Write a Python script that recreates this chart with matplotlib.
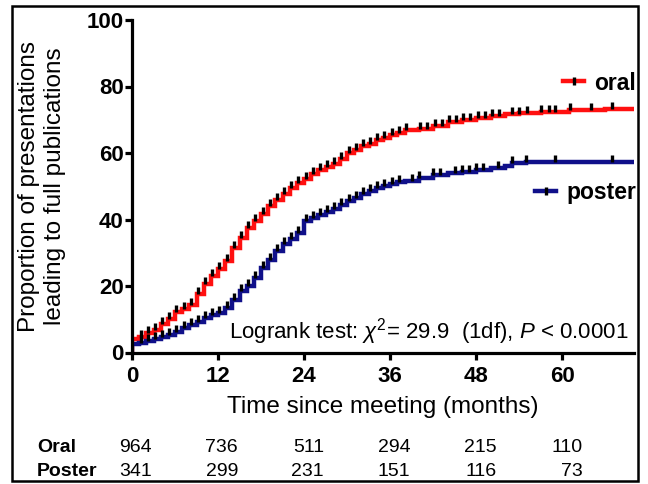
import numpy as np
import matplotlib
matplotlib.use("Agg")
import matplotlib.pyplot as plt
import matplotlib.transforms as mtransforms
from matplotlib.lines import Line2D
from matplotlib.patches import Rectangle

plt.rcParams['font.family'] = ['Liberation Sans', 'DejaVu Sans']
plt.rcParams['mathtext.fontset'] = 'custom'
plt.rcParams['mathtext.rm'] = 'Liberation Sans'
plt.rcParams['mathtext.it'] = 'Liberation Sans:italic'

# cumulative proportion published (%) - step times in months and levels after each step
oral_t = [0, 1, 2, 3, 4, 5, 6, 7, 8, 9, 10, 11, 12, 13, 14, 15, 16, 17, 18, 19,
          20, 21, 22, 23, 24, 25, 26, 27, 28, 29, 30, 31, 32, 33, 34, 35, 36, 37, 38,
          40, 42, 44, 46, 48, 50, 52, 54, 57, 61, 66]
oral_y = [4.0, 4.8, 5.8, 6.8, 8.5, 10.0, 12.3, 13.2, 14.3, 17.5,
          20.5, 23.0, 25.0, 27.5, 31.5, 34.5, 37.5, 39.5, 41.7, 44.0,
          46.0, 47.7, 49.5, 51.0, 52.3, 53.7, 55.0, 55.8, 56.8, 58.2,
          60.0, 61.0, 62.0, 62.8, 63.8, 64.6, 65.3, 66.0, 66.8,
          67.2, 68.2, 69.2, 70.0, 70.6, 71.2, 71.6, 72.0, 72.4, 72.8, 73.1]
oral_cens = [1.2, 2.2, 3.2, 4.2, 5.2, 6.2, 7.2, 8.2, 9.2, 10.2, 11.2, 12.2, 13.2,
             14.2, 15.2, 16.2, 17.2, 18.2, 19.2, 20.2, 21.2, 22.2, 23.2, 24.2, 25.2,
             26.2, 27.2, 28.2, 29.2, 30.2, 31.2, 32.2, 33.2, 34.2, 35.2, 36.2, 37.2,
             38.2, 40.2, 41.2, 42.2, 43.2, 44.2, 45.2, 46.2, 47.2, 48.2, 49.2, 50.2,
             51.2, 53.0, 53.9, 55.1, 57.0, 58.1, 59.0, 61.1, 64.0, 67.0]

poster_t = [0, 1, 2, 3, 4, 5, 6, 7, 8, 9, 10, 11, 12, 13, 14, 15, 16, 17, 18, 19,
            20, 21, 22, 23, 24, 25, 26, 27, 28, 29, 30, 31, 32, 33, 34, 35, 36, 37, 38,
            40, 42, 44, 46, 48, 50, 52, 53, 55]
poster_y = [2.5, 3.0, 3.5, 4.0, 4.6, 5.3, 6.3, 7.3, 8.3, 9.3,
            10.3, 11.2, 12.0, 13.5, 15.8, 18.5, 20.0, 22.5, 25.5, 27.8,
            30.5, 32.5, 34.2, 36.0, 39.5, 40.5, 41.5, 42.3, 43.3, 44.5,
            45.5, 46.5, 47.8, 48.7, 49.5, 50.1, 50.8, 51.3, 51.7,
            52.6, 53.3, 54.0, 54.4, 54.9, 55.5, 56.2, 56.9, 57.4]
poster_cens = [1.2, 2.2, 3.2, 4.2, 5.2, 6.2, 7.2, 8.2, 9.2, 10.2, 11.2, 12.2, 13.2,
               14.2, 15.2, 16.2, 17.2, 18.2, 19.2, 20.2, 21.2, 22.2, 23.2, 24.2, 25.2,
               26.2, 27.2, 28.2, 29.2, 30.2, 31.2, 32.2, 33.2, 34.2, 35.2, 36.2, 37.2,
               39.0, 40.0, 42.0, 43.0, 45.0, 46.0, 47.0, 48.0, 49.0, 51.0, 53.0, 55.0,
               59.0, 67.0]

risk_times = [0, 12, 24, 36, 48, 60]
oral_risk = [964, 736, 511, 294, 215, 110]
poster_risk = [341, 299, 231, 151, 116, 73]

RED = '#ff1010'
BLUE = '#10108a'
XMAX = 70

fig = plt.figure(figsize=(6.48, 4.84), dpi=100)
ax = fig.add_axes([132/648, (484-352.5)/484, (634-132)/648, (352.5-20)/484])


def draw_km(t, y, cens, color):
    xs = [0] + list(t) + [XMAX]
    ys = [0] + list(y) + [y[-1]]
    ax.step(xs, ys, where='post', color=color, lw=3.2, solid_joinstyle='miter', zorder=2)
    idx = np.searchsorted(t, cens, side='right') - 1
    cy = np.array(y)[idx]
    ax.plot(cens, cy, ls='none', marker=2, ms=4.8, mew=2.4, color='black', zorder=3)


draw_km(oral_t, oral_y, oral_cens, RED)
draw_km(poster_t, poster_y, poster_cens, BLUE)

ax.set_xlim(0, XMAX)
ax.set_ylim(0, 100)
ax.set_xticks(risk_times)
ax.set_yticks([0, 20, 40, 60, 80, 100])
for s in ['top', 'right']:
    ax.spines[s].set_visible(False)
for s in ['left', 'bottom']:
    ax.spines[s].set_linewidth(2.3)
ax.tick_params(axis='both', length=5, width=2.3, labelsize=16)
ax.tick_params(axis='x', pad=5)
ax.tick_params(axis='y', pad=1)
for lab in ax.get_xticklabels() + ax.get_yticklabels():
    lab.set_fontweight('bold')

ax.set_xlabel('Time since meeting (months)', fontsize=17.5)
ax.xaxis.set_label_coords(0.5, (352.5-407)/332.5)
ax.xaxis.label.set_va('center')
ax.set_ylabel('Proportion of presentations\nleading to full publications', fontsize=17.5,
              linespacing=1.25)
ax.yaxis.set_label_coords((42-132)/502, 0.5)
ax.yaxis.label.set_va('center')

ax.text(69.2, 6.2, r'Logrank test: $\chi^2$= 29.9  (1df), $P$ < 0.0001', fontsize=16,
        ha='right', va='center')

# legends
h_oral = Line2D([], [], color=RED, lw=3.2, marker='|', ms=6, mew=2.4, mec='black')
h_post = Line2D([], [], color=BLUE, lw=3.2, marker='|', ms=6, mew=2.4, mec='black')
leg_kw = dict(frameon=False, borderpad=0, borderaxespad=0, handlelength=0.9,
              handletextpad=0.45, prop=dict(weight='bold', size=16.5),
              bbox_transform=fig.transFigure, loc='center right')
leg1 = ax.legend([h_oral], ['oral'], bbox_to_anchor=(636/648, 1-83/484), **leg_kw)
ax.add_artist(leg1)
ax.legend([h_post], ['poster'], bbox_to_anchor=(636/648, 1-193/484), **leg_kw)

# number at risk table
trans = mtransforms.blended_transform_factory(ax.transData, fig.transFigure)
trans = mtransforms.offset_copy(trans, fig=fig, x=20, y=0, units='dots')
for row_y, name, vals in [(1-448/484, 'Oral', oral_risk), (1-471/484, 'Poster', poster_risk)]:
    fig.text(37/648, row_y, name, fontsize=14, fontweight='bold', ha='left', va='center')
    for t, v in zip(risk_times, vals):
        ax.text(t, row_y, str(v), transform=trans, fontsize=14, ha='right', va='center',
                clip_on=False)

# outer frame
fig.patches.append(Rectangle((12/648, 3/484), (638-12)/648, (478-3)/484, transform=fig.transFigure,
                             fill=False, edgecolor='black', lw=1.8))

fig.savefig('out.png', dpi=100)
